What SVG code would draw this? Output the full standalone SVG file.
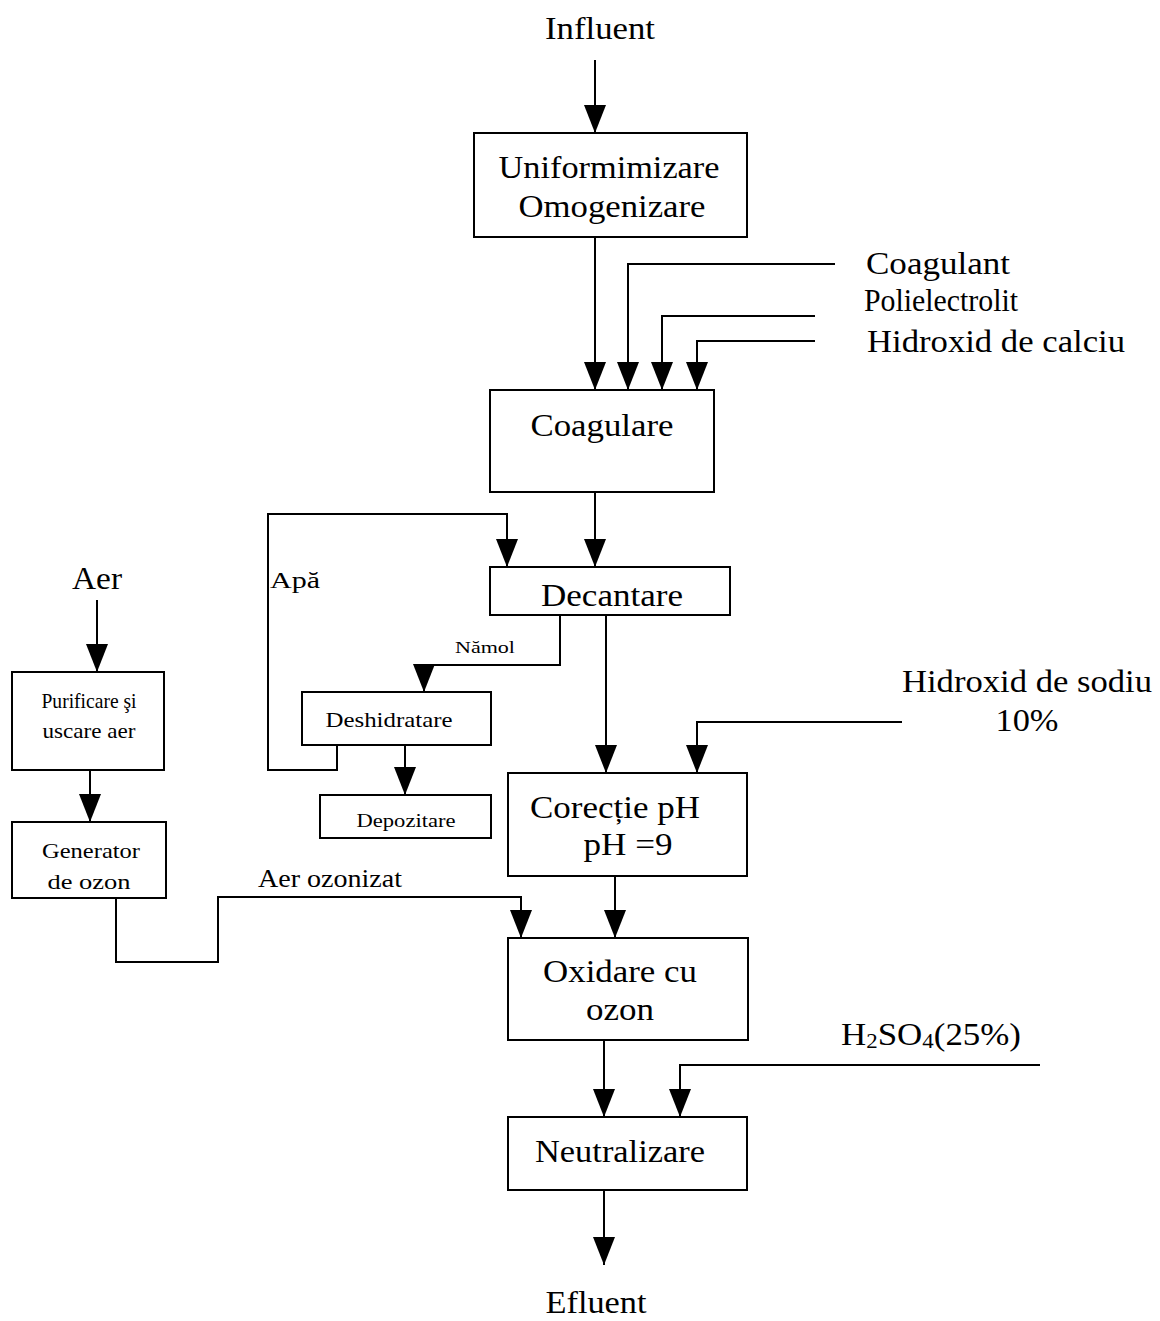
<svg xmlns="http://www.w3.org/2000/svg" width="1160" height="1321" viewBox="0 0 1160 1321">
  <style>
    text { font-family: "Liberation Serif", "Times New Roman", serif; fill: #000; }
    .big { font-size: 32px; }
    .mid { font-size: 25px; }
    .sm { font-size: 21px; }
    .xs { font-size: 17px; }
    .box { fill: #fff; stroke: #000; stroke-width: 2; }
    .wire { fill: none; stroke: #000; stroke-width: 2; }
  </style>
  <defs>
    <marker id="arrow" viewBox="0 0 28 22" refX="28" refY="11" markerWidth="28" markerHeight="22" markerUnits="userSpaceOnUse" orient="auto">
      <path d="M0,0 L28,11 L0,22 Z" fill="#000"/>
    </marker>
  </defs>
  <rect width="1160" height="1321" fill="#fff"/>

  <!-- process connectors -->
  <g id="connectors">
    <path class="wire" d="M595,60 V133" marker-end="url(#arrow)"/>
    <path class="wire" d="M595,237 V390" marker-end="url(#arrow)"/>
    <path class="wire" d="M835,264 H628 V390" marker-end="url(#arrow)"/>
    <path class="wire" d="M815,316 H662 V390" marker-end="url(#arrow)"/>
    <path class="wire" d="M815,341 H697 V390" marker-end="url(#arrow)"/>
    <path class="wire" d="M595,492 V567" marker-end="url(#arrow)"/>
    <path class="wire" d="M337,745 V770 H268 V514 H507 V567" marker-end="url(#arrow)"/>
    <path class="wire" d="M560,615 V665 H424 V692" marker-end="url(#arrow)"/>
    <path class="wire" d="M405,745 V795" marker-end="url(#arrow)"/>
    <path class="wire" d="M606,615 V773" marker-end="url(#arrow)"/>
    <path class="wire" d="M902,722 H697 V773" marker-end="url(#arrow)"/>
    <path class="wire" d="M97,600 V672" marker-end="url(#arrow)"/>
    <path class="wire" d="M90,770 V822" marker-end="url(#arrow)"/>
    <path class="wire" d="M116,898 V962 H218 V897 H521 V938" marker-end="url(#arrow)"/>
    <path class="wire" d="M615,876 V938" marker-end="url(#arrow)"/>
    <path class="wire" d="M604,1040 V1117" marker-end="url(#arrow)"/>
    <path class="wire" d="M1040,1065 H680 V1117" marker-end="url(#arrow)"/>
    <path class="wire" d="M604,1190 V1265" marker-end="url(#arrow)"/>
  </g>

  <!-- stream labels -->
  <g id="labels">
    <text class="big" x="600" y="39" text-anchor="middle" textLength="110" lengthAdjust="spacingAndGlyphs">Influent</text>
    <text class="big" x="866" y="274" textLength="144" lengthAdjust="spacingAndGlyphs">Coagulant</text>
    <text class="big" x="864" y="311" textLength="154" lengthAdjust="spacingAndGlyphs">Polielectrolit</text>
    <text class="big" x="867" y="352" textLength="258" lengthAdjust="spacingAndGlyphs">Hidroxid de calciu</text>
    <text class="big" x="97" y="589" text-anchor="middle" textLength="50" lengthAdjust="spacingAndGlyphs">Aer</text>
    <text class="sm" x="270" y="588" textLength="50" lengthAdjust="spacingAndGlyphs" style="font-size:23px">Apă</text>
    <text class="xs" x="455" y="653" textLength="60" lengthAdjust="spacingAndGlyphs">Nămol</text>
    <text class="big" x="902" y="692" textLength="250" lengthAdjust="spacingAndGlyphs">Hidroxid de sodiu</text>
    <text class="big" x="1027" y="731" text-anchor="middle" textLength="63" lengthAdjust="spacingAndGlyphs">10%</text>
    <text class="mid" x="258" y="887" textLength="144" lengthAdjust="spacingAndGlyphs">Aer ozonizat</text>
    <text class="big" x="841" y="1045" textLength="180" lengthAdjust="spacingAndGlyphs">H<tspan font-size="21" dy="3">2</tspan><tspan dy="-3">SO</tspan><tspan font-size="21" dy="3">4</tspan><tspan dy="-3">(25%)</tspan></text>
    <text class="big" x="596" y="1313" text-anchor="middle" textLength="101" lengthAdjust="spacingAndGlyphs">Efluent</text>
  </g>

  <g id="uniformizare">
    <rect class="box" x="474" y="133" width="273" height="104"/>
    <text class="big" x="609" y="178" text-anchor="middle" textLength="221" lengthAdjust="spacingAndGlyphs">Uniformimizare</text>
    <text class="big" x="612" y="217" text-anchor="middle" textLength="187" lengthAdjust="spacingAndGlyphs">Omogenizare</text>
  </g>

  <g id="coagulare">
    <rect class="box" x="490" y="390" width="224" height="102"/>
    <text class="big" x="602" y="436" text-anchor="middle" textLength="143" lengthAdjust="spacingAndGlyphs">Coagulare</text>
  </g>

  <g id="decantare">
    <rect class="box" x="490" y="567" width="240" height="48"/>
    <text class="big" x="612" y="606" text-anchor="middle" textLength="142" lengthAdjust="spacingAndGlyphs">Decantare</text>
  </g>

  <g id="deshidratare">
    <rect class="box" x="302" y="692" width="189" height="53"/>
    <text class="sm" x="389" y="727" text-anchor="middle" textLength="127" lengthAdjust="spacingAndGlyphs">Deshidratare</text>
  </g>

  <g id="depozitare">
    <rect class="box" x="320" y="795" width="171" height="43"/>
    <text class="xs" x="406" y="827" text-anchor="middle" textLength="99" lengthAdjust="spacingAndGlyphs" style="font-size:19px">Depozitare</text>
  </g>

  <g id="purificare">
    <rect class="box" x="12" y="672" width="152" height="98"/>
    <text class="sm" x="89" y="708" text-anchor="middle" textLength="95" lengthAdjust="spacingAndGlyphs">Purificare şi</text>
    <text class="sm" x="89" y="738" text-anchor="middle" textLength="93" lengthAdjust="spacingAndGlyphs">uscare aer</text>
  </g>

  <g id="generator">
    <rect class="box" x="12" y="822" width="154" height="76"/>
    <text class="sm" x="91" y="858" text-anchor="middle" textLength="98" lengthAdjust="spacingAndGlyphs">Generator</text>
    <text class="sm" x="89" y="889" text-anchor="middle" textLength="83" lengthAdjust="spacingAndGlyphs">de ozon</text>
  </g>

  <g id="corectie">
    <rect class="box" x="508" y="773" width="239" height="103"/>
    <text class="big" x="615" y="818" text-anchor="middle" textLength="170" lengthAdjust="spacingAndGlyphs">Corecție pH</text>
    <text class="big" x="628" y="855" text-anchor="middle" textLength="89" lengthAdjust="spacingAndGlyphs">pH =9</text>
  </g>

  <g id="oxidare">
    <rect class="box" x="508" y="938" width="240" height="102"/>
    <text class="big" x="620" y="982" text-anchor="middle" textLength="154" lengthAdjust="spacingAndGlyphs">Oxidare cu</text>
    <text class="big" x="620" y="1020" text-anchor="middle" textLength="68" lengthAdjust="spacingAndGlyphs">ozon</text>
  </g>

  <g id="neutralizare">
    <rect class="box" x="508" y="1117" width="239" height="73"/>
    <text class="big" x="620" y="1162" text-anchor="middle" textLength="170" lengthAdjust="spacingAndGlyphs">Neutralizare</text>
  </g>
</svg>
